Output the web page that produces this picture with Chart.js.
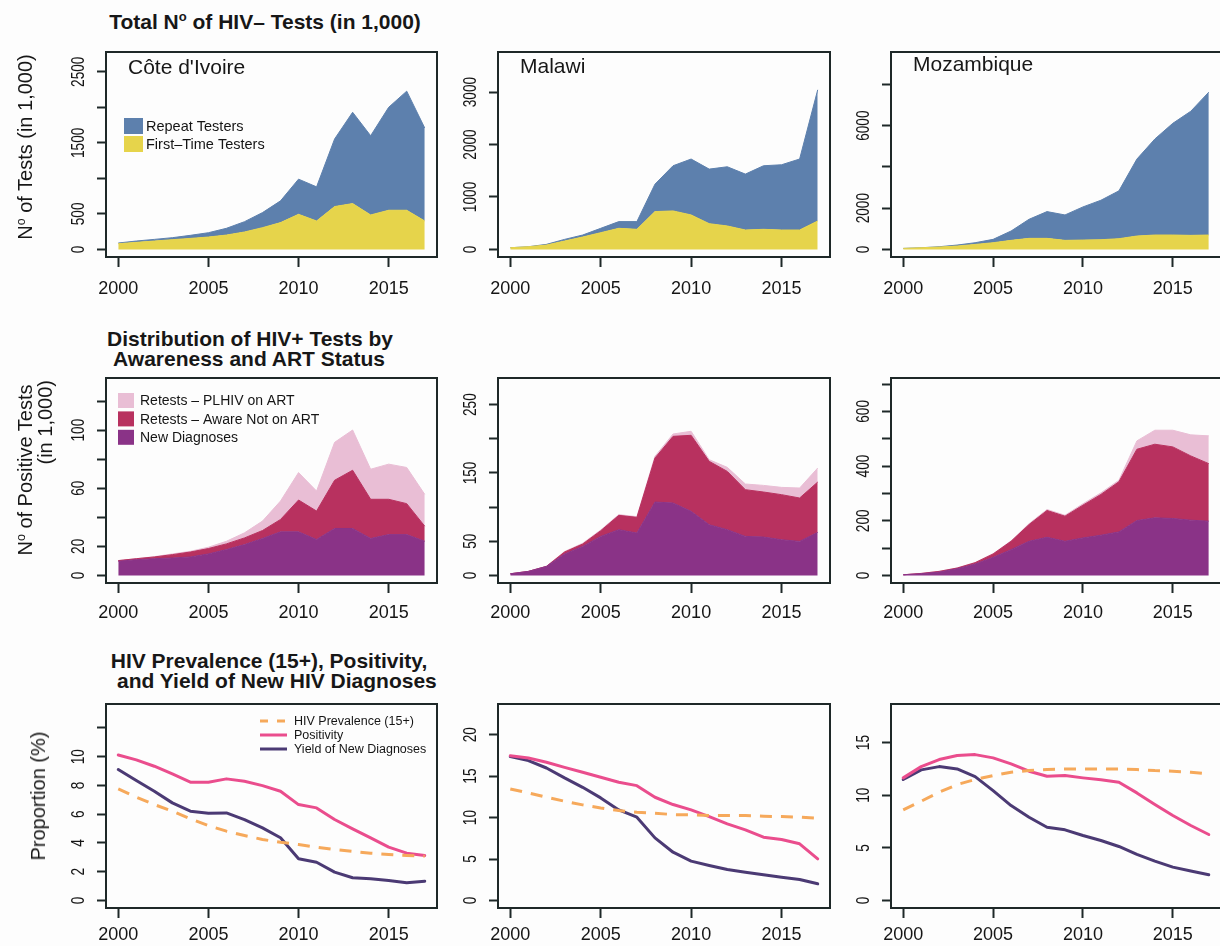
<!DOCTYPE html>
<html>
<head>
<meta charset="utf-8">
<script src="https://cdn.jsdelivr.net/npm/chart.js@4.4.1/dist/chart.umd.min.js"></script>
<style>
  body { margin: 0; background: #fdfdfd; }
  #fig { position: relative; width: 1220px; height: 946px; overflow: hidden;
         font-family: "Liberation Sans", Arial, sans-serif; color: #171717; }
  #fig canvas { position: absolute; }
  .t { position: absolute; white-space: nowrap; line-height: 20px; }
  .title { font-weight: bold; font-size: 21px; text-align: center; width: 600px; }
  .ytitle { font-size: 20px; transform: translate(-50%, -50%) rotate(-90deg); }
  .country { font-size: 21px; }
  sup { font-size: 0.62em; line-height: 0; vertical-align: 0.6em; }
</style>
</head>
<body>
<div id="fig">
  <div class="t title" style="left:-35px;top:12px">Total N<sup>o</sup> of HIV– Tests (in 1,000)</div>
  <div class="t title" style="left:-50px;top:329px">Distribution of HIV+ Tests by</div>
  <div class="t title" style="left:-51px;top:349px">Awareness and ART Status</div>
  <div class="t title" style="left:-31px;top:651px">HIV Prevalence (15+), Positivity,</div>
  <div class="t title" style="left:-26px;top:671px">&nbsp;and Yield of New HIV Diagnoses</div>

  <div class="t ytitle" style="left:25px;top:147px">N<sup>o</sup> of Tests (in 1,000)</div>
  <div class="t ytitle" style="left:35px;top:470px;width:180px">
    <div style="text-align:center">N<sup>o</sup> of Positive Tests</div>
    <div style="text-align:right">(in 1,000)</div>
  </div>
  <div class="t ytitle" style="left:38px;top:796px">Proportion (%)</div>

  <div class="t country" style="left:128px;top:57px">Côte d'Ivoire</div>
  <div class="t country" style="left:520px;top:56px">Malawi</div>
  <div class="t country" style="left:913px;top:54px">Mozambique</div>
</div>

<script>
const years = [2000, 2001, 2002, 2003, 2004, 2005, 2006, 2007, 2008, 2009,
               2010, 2011, 2012, 2013, 2014, 2015, 2016, 2017];
const xTickYears = [2000, 2005, 2010, 2015];

// Row 1: tests in 1,000 (total = top of blue band, first-time = top of yellow band)
const civTotalTests = [90, 118, 141, 165, 198, 235, 297, 390, 518, 683, 989, 880, 1554, 1930, 1600, 2000, 2227, 1709];
const civFirstTime  = [80, 99, 118, 137, 155, 174, 202, 245, 306, 377, 494, 400, 603, 645, 485, 551, 551, 400];
const mwiTotalTests = [32, 51, 96, 191, 274, 402, 530, 530, 1244, 1595, 1723, 1531, 1576, 1436, 1595, 1614, 1723, 3043];
const mwiFirstTime  = [32, 51, 83, 160, 236, 319, 402, 383, 721, 734, 657, 491, 447, 370, 383, 370, 370, 542];
const mozTotalTests = [49, 81, 130, 211, 324, 487, 892, 1460, 1833, 1671, 2060, 2384, 2839, 4379, 5353, 6115, 6699, 7623];
const mozFirstTime  = [49, 81, 114, 162, 243, 324, 438, 535, 535, 438, 454, 470, 519, 649, 697, 697, 681, 697];

// Row 2: positive tests in 1,000, upper edge of each band
const civNewDiag = [9.7, 10.8, 11.5, 12.0, 12.7, 14.8, 17.8, 21.2, 25.4, 30.0, 30.0, 24.7, 32.3, 32.3, 25.4, 28.1, 28.1, 23.5];
const civAwareTop = [10.2, 11.5, 12.7, 14.3, 16.1, 18.5, 21.7, 25.8, 30.9, 38.5, 51.9, 44.3, 65.5, 72.4, 52.4, 52.4, 49.4, 33.9];
const civPositiveTotal = [10.2, 11.5, 12.9, 14.8, 16.6, 19.4, 23.5, 29.3, 37.4, 51.2, 70.8, 58.1, 91.6, 100.1, 73.1, 76.6, 74.3, 55.8];
const mwiNewDiag = [2.4, 5.9, 13.2, 31.3, 42.5, 57.1, 66.9, 62.0, 107.4, 106.0, 93.8, 74.2, 66.9, 57.1, 56.2, 52.2, 49.8, 63.0];
const mwiAwareTop = [2.4, 5.9, 13.2, 34.2, 45.9, 65.4, 87.9, 85.0, 171.9, 203.6, 205.1, 167.0, 152.3, 125.5, 122.1, 118.2, 113.3, 136.7];
const mwiPositiveTotal = [2.4, 5.9, 13.5, 35.0, 47.0, 66.5, 89.0, 86.0, 174.3, 207.0, 211.0, 169.4, 158.2, 133.8, 131.8, 128.9, 127.9, 157.2];
const mozNewDiag = [2.4, 6.1, 12.2, 24.5, 41.6, 66.1, 94.2, 124.8, 139.5, 124.8, 137.1, 146.9, 159.1, 200.7, 210.5, 208.1, 202.0, 198.3];
const mozAwareTop = [2.4, 7.3, 14.7, 26.9, 46.5, 78.3, 124.8, 186.0, 237.5, 216.6, 257.0, 296.2, 342.7, 461.4, 479.8, 470.0, 437.0, 408.8];
const mozPositiveTotal = [2.4, 7.3, 15.0, 27.5, 47.5, 79.5, 126.5, 189.0, 241.0, 220.0, 262.0, 302.0, 348.0, 492.0, 531.0, 531.0, 514.0, 510.4];

// Row 3: proportions (%)
const civPrevalence = [7.76, 7.18, 6.67, 6.21, 5.68, 5.21, 4.82, 4.52, 4.24, 4.05, 3.89, 3.71, 3.54, 3.41, 3.29, 3.20, 3.13, 3.08];
const civPositivity = [10.12, 9.78, 9.34, 8.80, 8.23, 8.23, 8.46, 8.29, 7.99, 7.60, 6.67, 6.44, 5.63, 4.98, 4.36, 3.71, 3.29, 3.13];
const civYield      = [9.11, 8.34, 7.60, 6.79, 6.21, 6.07, 6.09, 5.63, 5.05, 4.36, 2.90, 2.66, 1.97, 1.58, 1.51, 1.39, 1.23, 1.34];
const mwiPrevalence = [13.45, 12.97, 12.45, 11.97, 11.53, 11.16, 10.84, 10.64, 10.52, 10.36, 10.32, 10.24, 10.24, 10.24, 10.16, 10.12, 10.04, 9.92];
const mwiPositivity = [17.47, 17.19, 16.67, 16.06, 15.46, 14.86, 14.26, 13.85, 12.45, 11.57, 10.92, 10.12, 9.24, 8.51, 7.63, 7.35, 6.83, 5.02];
const mwiYield      = [17.35, 16.87, 15.98, 14.78, 13.65, 12.37, 10.92, 10.04, 7.55, 5.82, 4.74, 4.22, 3.73, 3.41, 3.09, 2.81, 2.53, 2.01];
const mozPrevalence = [8.61, 9.43, 10.29, 11.01, 11.49, 11.87, 12.19, 12.34, 12.44, 12.50, 12.50, 12.50, 12.50, 12.44, 12.34, 12.28, 12.19, 12.03];
const mozPositivity = [11.65, 12.72, 13.39, 13.77, 13.86, 13.55, 12.98, 12.28, 11.81, 11.87, 11.65, 11.46, 11.24, 10.22, 9.12, 8.07, 7.12, 6.27];
const mozYield      = [11.49, 12.41, 12.72, 12.50, 11.77, 10.44, 9.02, 7.91, 6.96, 6.71, 6.17, 5.70, 5.13, 4.37, 3.73, 3.17, 2.79, 2.44];

// y tick marks, and which of them carry a label
const civTestTicks = [0, 500, 1000, 1500, 2000, 2500];
const civTestLabels = [0, 500, 1500, 2500];
const mwiTestTicks = [0, 1000, 2000, 3000];
const mwiTestLabels = [0, 1000, 2000, 3000];
const mozTestTicks = [0, 2000, 4000, 6000, 8000];
const mozTestLabels = [0, 2000, 6000];
const civPosTicks = [0, 20, 40, 60, 80, 100, 120];
const civPosLabels = [0, 20, 60, 100];
const mwiPosTicks = [0, 50, 100, 150, 200, 250];
const mwiPosLabels = [0, 50, 150, 250];
const mozPosTicks = [0, 100, 200, 300, 400, 500, 600, 700];
const mozPosLabels = [0, 200, 400, 600];
const civPropTicks = [0, 2, 4, 6, 8, 10, 12];
const civPropLabels = [0, 2, 4, 6, 8, 10];
const mwiPropTicks = [0, 5, 10, 15, 20];
const mwiPropLabels = [0, 5, 10, 15, 20];
const mozPropTicks = [0, 5, 10, 15];
const mozPropLabels = [0, 5, 10, 15];

const FONT = '"Liberation Sans", Arial, sans-serif';
const TEXT_COLOR = '#151515';
const AXIS_COLOR = '#1e2828';
const Y_AXIS_W = 70, X_AXIS_H = 48, PAD_TOP = 4, PAD_RIGHT = 6;
const colLeft = [106, 498, 891], colRight = [437, 830, 1221];
const rowTop = [52, 377.5, 703.5], rowBottom = [257, 583, 908];
const rowLabelPad = [11, 9, 6];

function pts(values) {
  return years.map((yr, i) => ({ x: yr, y: values[i] }));
}

function area(label, values, color, fill) {
  return { label: label, data: pts(values), backgroundColor: color, borderColor: color,
           borderWidth: 1, fill: fill, pointRadius: 0, tension: 0 };
}

function line(label, values, color, dash) {
  return { label: label, data: pts(values), borderColor: color, backgroundColor: color,
           borderWidth: 3, borderDash: dash || [], fill: false, pointRadius: 0, tension: 0,
           borderCapStyle: dash ? 'butt' : 'round', borderJoinStyle: 'round' };
}

function testSets(first, total) {
  return [area('First–Time Testers', first, '#e6d44b', 'origin'),
          area('Repeat Testers', total, '#5d80ad', '-1')];
}

function positiveSets(newDiag, awareTop, total) {
  return [area('New Diagnoses', newDiag, '#8a3387', 'origin'),
          area('Retests – Aware Not on ART', awareTop, '#b8315f', '-1'),
          area('Retests – PLHIV on ART', total, '#e9bed5', '-1')];
}

function propSets(prev, posi, yld) {
  return [line('HIV Prevalence (15+)', prev, '#f6a95b', [12, 9]),
          line('Positivity', posi, '#ea4d8d'),
          line('Yield of New Diagnoses', yld, '#4b3a74')];
}

// box round the plot, rotated y labels and the in-plot legends
const panelDecor = {
  id: 'panelDecor',
  afterDraw(chart, args, opts) {
    const ctx = chart.ctx, a = chart.chartArea, y = chart.scales.y;
    ctx.save();
    ctx.strokeStyle = AXIS_COLOR;
    ctx.lineWidth = 2;
    ctx.strokeRect(a.left, a.top, a.right - a.left, a.bottom - a.top);

    ctx.fillStyle = TEXT_COLOR;
    ctx.font = '19px ' + FONT;
    ctx.textAlign = 'center';
    ctx.textBaseline = 'middle';
    opts.yLabels.forEach(v => {
      ctx.save();
      ctx.translate(a.left - 27, y.getPixelForValue(v));
      ctx.rotate(-Math.PI / 2);
      ctx.scale(0.72, 1);
      ctx.fillText(String(v), 0, 0);
      ctx.restore();
    });

    const lg = opts.legend;
    if (lg) {
      ctx.font = lg.size + 'px ' + FONT;
      ctx.textAlign = 'left';
      lg.order.forEach((k, j) => {
        const ds = chart.data.datasets[k];
        const yc = a.top + lg.y + j * lg.dy;
        if (lg.kind === 'box') {
          ctx.fillStyle = ds.backgroundColor;
          ctx.fillRect(a.left + lg.x, yc - lg.h / 2, lg.w, lg.h);
        } else {
          ctx.strokeStyle = ds.borderColor;
          ctx.lineWidth = 3;
          ctx.setLineDash(ds.borderDash.length ? [8, 9] : []);
          ctx.beginPath();
          ctx.moveTo(a.left + lg.x, yc);
          ctx.lineTo(a.left + lg.x + lg.w, yc);
          ctx.stroke();
          ctx.setLineDash([]);
        }
        ctx.fillStyle = TEXT_COLOR;
        ctx.fillText(ds.label, a.left + lg.textX, yc + 1);
      });
    }
    ctx.restore();
  }
};

const panels = [
  { row: 0, col: 0, sets: testSets(civFirstTime, civTotalTests), yMax: 2778, ticks: civTestTicks, labels: civTestLabels,
    legend: { kind: 'box', order: [1, 0], x: 18, w: 19, h: 16, y: 74, dy: 18, textX: 40, size: 14.5 } },
  { row: 0, col: 1, sets: testSets(mwiFirstTime, mwiTotalTests), yMax: 3764, ticks: mwiTestTicks, labels: mwiTestLabels },
  { row: 0, col: 2, sets: testSets(mozFirstTime, mozTotalTests), yMax: 9570, ticks: mozTestTicks, labels: mozTestLabels },
  { row: 1, col: 0, sets: positiveSets(civNewDiag, civAwareTop, civPositiveTotal), yMax: 135.9, ticks: civPosTicks, labels: civPosLabels,
    legend: { kind: 'box', order: [2, 1, 0], x: 12, w: 16, h: 15, y: 22.5, dy: 18.4, textX: 34, size: 14 } },
  { row: 1, col: 1, sets: positiveSets(mwiNewDiag, mwiAwareTop, mwiPositiveTotal), yMax: 289, ticks: mwiPosTicks, labels: mwiPosLabels },
  { row: 1, col: 2, sets: positiveSets(mozNewDiag, mozAwareTop, mozPositiveTotal), yMax: 722, ticks: mozPosTicks, labels: mozPosLabels },
  { row: 2, col: 0, sets: propSets(civPrevalence, civPositivity, civYield), yMax: 13.67, ticks: civPropTicks, labels: civPropLabels,
    legend: { kind: 'line', order: [0, 1, 2], x: 154, w: 27, y: 17, dy: 14, textX: 188, size: 12.5 } },
  { row: 2, col: 1, sets: propSets(mwiPrevalence, mwiPositivity, mwiYield), yMax: 23.7, ticks: mwiPropTicks, labels: mwiPropLabels },
  { row: 2, col: 2, sets: propSets(mozPrevalence, mozPositivity, mozYield), yMax: 18.67, ticks: mozPropTicks, labels: mozPropLabels }
];

const fig = document.getElementById('fig');

panels.forEach(p => {
  const canvas = document.createElement('canvas');
  const boxW = colRight[p.col] - colLeft[p.col];
  const boxH = rowBottom[p.row] - rowTop[p.row];
  canvas.width = boxW + Y_AXIS_W + PAD_RIGHT;
  canvas.height = boxH + PAD_TOP + X_AXIS_H;
  canvas.style.left = (colLeft[p.col] - Y_AXIS_W) + 'px';
  canvas.style.top = (rowTop[p.row] - PAD_TOP) + 'px';
  fig.insertBefore(canvas, fig.firstChild);

  new Chart(canvas.getContext('2d'), {
    type: 'line',
    data: { datasets: p.sets },
    plugins: [panelDecor],
    options: {
      responsive: false,
      animation: false,
      layout: { padding: { top: PAD_TOP, right: PAD_RIGHT, left: 0, bottom: 0 } },
      scales: {
        x: {
          type: 'linear',
          min: 1999.32,
          max: 2017.68,
          afterBuildTicks: s => { s.ticks = xTickYears.map(v => ({ value: v })); },
          afterFit: s => { s.height = X_AXIS_H; },
          border: { display: false },
          grid: { drawOnChartArea: false, drawTicks: true, tickLength: 10, tickWidth: 2, tickColor: AXIS_COLOR },
          ticks: { callback: v => String(v), autoSkip: false, maxRotation: 0, padding: rowLabelPad[p.row],
                   color: TEXT_COLOR, font: { family: FONT, size: 18 } }
        },
        y: {
          type: 'linear',
          min: -p.yMax / 26,
          max: p.yMax,
          afterBuildTicks: s => { s.ticks = p.ticks.map(v => ({ value: v })); },
          afterFit: s => { s.width = Y_AXIS_W; },
          border: { display: false },
          grid: { drawOnChartArea: false, drawTicks: true, tickLength: 9, tickWidth: 2, tickColor: AXIS_COLOR },
          ticks: { display: false }
        }
      },
      plugins: {
        legend: { display: false },
        tooltip: { enabled: false },
        panelDecor: { yLabels: p.labels, legend: p.legend }
      }
    }
  });
});
</script>
</body>
</html>
